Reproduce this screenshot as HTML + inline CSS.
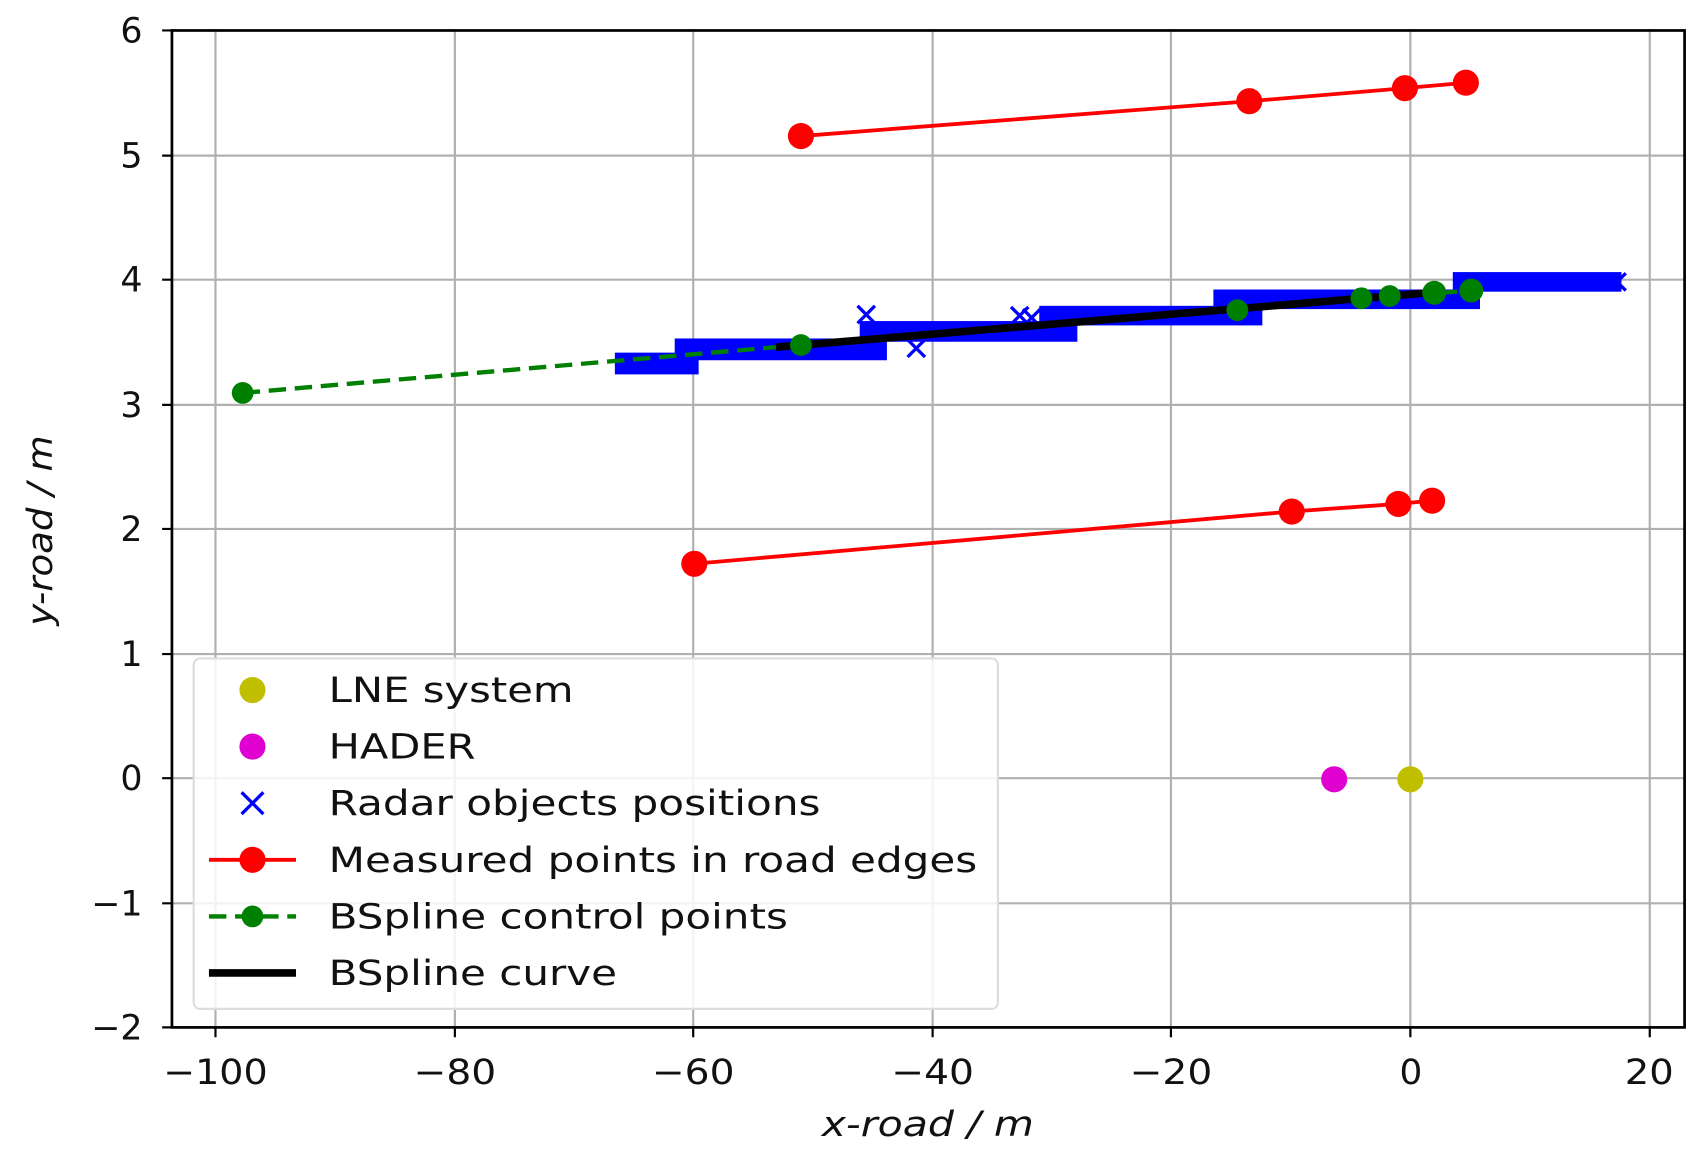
<!DOCTYPE html>
<html><head><meta charset="utf-8"><style>html,body{margin:0;padding:0;background:#fff;}svg{display:block}</style></head>
<body>
<svg width="1702" height="1158" viewBox="0 0 1564 1064" preserveAspectRatio="none" xmlns="http://www.w3.org/2000/svg" font-family="DejaVu Sans, Liberation Sans, sans-serif">
<rect width="1564" height="1064" fill="#fff"/>
<g stroke="#b0b0b0" stroke-width="2">
<line x1="198" y1="28" x2="198" y2="944"/><line x1="418" y1="28" x2="418" y2="944"/><line x1="637" y1="28" x2="637" y2="944"/><line x1="857" y1="28" x2="857" y2="944"/><line x1="1076" y1="28" x2="1076" y2="944"/><line x1="1296" y1="28" x2="1296" y2="944"/><line x1="1516" y1="28" x2="1516" y2="944"/>
<line x1="158" y1="143" x2="1548" y2="143"/><line x1="158" y1="257" x2="1548" y2="257"/><line x1="158" y1="372" x2="1548" y2="372"/><line x1="158" y1="486" x2="1548" y2="486"/><line x1="158" y1="601" x2="1548" y2="601"/><line x1="158" y1="715" x2="1548" y2="715"/><line x1="158" y1="830" x2="1548" y2="830"/>
</g>
<polyline points="736,125 1148,93 1291,81 1347,76" fill="none" stroke="#f00" stroke-width="3.5"/>
<g fill="#f00"><circle cx="736" cy="125" r="12"/><circle cx="1148" cy="93" r="12"/><circle cx="1291" cy="81" r="12"/><circle cx="1347" cy="76" r="12"/></g>
<polyline points="638,518 1187,470 1285,463 1316,460" fill="none" stroke="#f00" stroke-width="3.5"/>
<g fill="#f00"><circle cx="638" cy="518" r="12"/><circle cx="1187" cy="470" r="12"/><circle cx="1285" cy="463" r="12"/><circle cx="1316" cy="460" r="12"/></g>
<g fill="#00f">
<rect x="565" y="324" width="77" height="20"/>
<rect x="620" y="311" width="195" height="20"/>
<rect x="790" y="295" width="200" height="19"/>
<rect x="955" y="281" width="205" height="18"/>
<rect x="1115" y="266" width="245" height="18"/>
<rect x="1335" y="250" width="155" height="18"/>
</g>
<g stroke="#00f" stroke-width="3">
<path d="M788,281 l16,16 M804,281 l-16,16 M834,312 l16,16 M850,312 l-16,16 M929,282 l16,16 M945,282 l-16,16 M940,284 l16,16 M956,284 l-16,16 M1478,251 l16,16 M1494,251 l-16,16"/>
</g>
<polyline points="223,361 736,317 1137,285 1251,274 1277,272 1318,269 1325,269 1352,267" fill="none" stroke="#008000" stroke-width="4" stroke-dasharray="16,8"/>
<line x1="713" y1="319" x2="1325" y2="268" stroke="#000" stroke-width="7"/>
<g fill="#008000"><circle cx="223" cy="361" r="10"/><circle cx="736" cy="317" r="10"/><circle cx="1137" cy="285" r="10"/><circle cx="1251" cy="274" r="10"/><circle cx="1277" cy="272" r="10"/><circle cx="1318" cy="269" r="11"/><circle cx="1352" cy="267" r="11"/></g>
<circle cx="1296" cy="716" r="12" fill="#bfbf00"/>
<circle cx="1226" cy="716" r="12" fill="#e000d0"/>
<rect x="178" y="605" width="739" height="322" rx="6" fill="#fff" fill-opacity="0.85" stroke="#ddd" stroke-width="2"/>
<circle cx="232" cy="634" r="12" fill="#bfbf00"/>
<circle cx="232" cy="686" r="12" fill="#e000d0"/>
<path d="M222,728 l20,20 M242,728 l-20,20" stroke="#00f" stroke-width="3"/>
<line x1="192" y1="790" x2="272" y2="790" stroke="#f00" stroke-width="3.5"/><circle cx="232" cy="790" r="12" fill="#f00"/>
<line x1="192" y1="842" x2="272" y2="842" stroke="#008000" stroke-width="4" stroke-dasharray="16,8"/><circle cx="232" cy="842" r="10" fill="#008000"/>
<line x1="192" y1="894" x2="272" y2="894" stroke="#000" stroke-width="7"/>
<g font-size="32" fill="#111" lengthAdjust="spacingAndGlyphs">
<text x="302" y="645" textLength="225" lengthAdjust="spacingAndGlyphs">LNE system</text>
<text x="302" y="697" textLength="135" lengthAdjust="spacingAndGlyphs">HADER</text>
<text x="302" y="749" textLength="452" lengthAdjust="spacingAndGlyphs">Radar objects positions</text>
<text x="302" y="801" textLength="596" lengthAdjust="spacingAndGlyphs">Measured points in road edges</text>
<text x="302" y="853" textLength="422" lengthAdjust="spacingAndGlyphs">BSpline control points</text>
<text x="302" y="905" textLength="265" lengthAdjust="spacingAndGlyphs">BSpline curve</text>
</g>
<rect x="158" y="28" width="1390" height="916" fill="none" stroke="#000" stroke-width="2.5"/>
<g stroke="#000" stroke-width="2">
<path d="M198,944v9M418,944v9M637,944v9M857,944v9M1076,944v9M1296,944v9M1516,944v9"/>
<path d="M158,28h-9M158,143h-9M158,257h-9M158,372h-9M158,486h-9M158,601h-9M158,715h-9M158,830h-9M158,944h-9"/>
</g>
<g font-size="32" fill="#111">
<text x="150" y="996" textLength="96" lengthAdjust="spacingAndGlyphs">−100</text>
<text x="380" y="996" textLength="76" lengthAdjust="spacingAndGlyphs">−80</text>
<text x="599" y="996" textLength="76" lengthAdjust="spacingAndGlyphs">−60</text>
<text x="819" y="996" textLength="76" lengthAdjust="spacingAndGlyphs">−40</text>
<text x="1038" y="996" textLength="76" lengthAdjust="spacingAndGlyphs">−20</text>
<text x="1286" y="996" textLength="21" lengthAdjust="spacingAndGlyphs">0</text>
<text x="1493" y="996" textLength="45" lengthAdjust="spacingAndGlyphs">20</text>
</g>
<g font-size="32" fill="#111" text-anchor="end">
<text x="131" y="39">6</text><text x="131" y="154">5</text><text x="131" y="268">4</text><text x="131" y="383">3</text><text x="131" y="497">2</text><text x="131" y="612">1</text><text x="131" y="726">0</text><text x="131" y="841">−1</text><text x="131" y="955">−2</text>
</g>
<text x="755" y="1044" font-size="32" font-style="italic" fill="#111" textLength="195" lengthAdjust="spacingAndGlyphs">x-road / m</text>
<text transform="translate(48,575) rotate(-90)" font-size="32" font-style="italic" fill="#111" textLength="175" lengthAdjust="spacingAndGlyphs">y-road / m</text>
</svg>
</body></html>
